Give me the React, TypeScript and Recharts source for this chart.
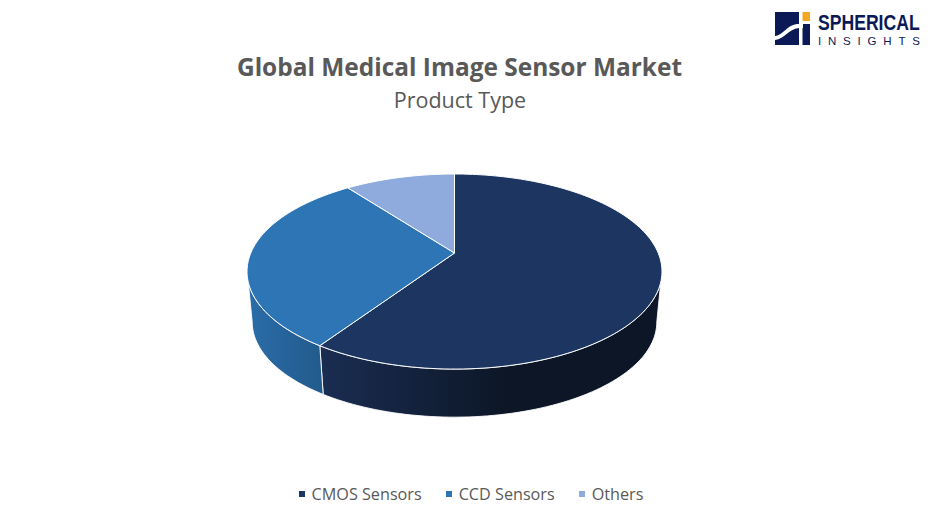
import React from "react";
import { PieChart, Pie, Legend } from "recharts";

const categories = ["CMOS Sensors", "CCD Sensors", "Others"];
const shares = [59.4, 30.3, 10.3];
const topColors = ["#1d3561", "#2e75b6", "#8faadc"];
const wallStart = ["#1a2d52", "#2b6ca9", "#6f88b3"];
const wallEnd = ["#0c1626", "#225a8b", "#6f88b3"];

const tableRows = categories.map((name, i) => ({
  name,
  value: shares[i],
  fill: topColors[i],
  wallA: wallStart[i],
  wallB: wallEnd[i],
  idx: i,
}));

const PERSPECTIVE = -0.19;
const SQUASH = 0.4615;
const DEPTH_SHIFT = 51;
const DEPTH_SCALE = 0.975;

function project(cx: number, cy: number, r: number, deg: number, scale = 1, shift = 0) {
  const t = (deg * Math.PI) / 180;
  const u = Math.sin(t);
  const v = -Math.cos(t);
  const d = 1 + PERSPECTIVE * v;
  return [cx + (scale * r * u) / d, cy + shift + (scale * r * SQUASH * v) / d];
}

function sweep(a: number, b: number) {
  const n = Math.max(2, Math.ceil(Math.abs(b - a) / 1.5));
  const out: number[] = [];
  for (let i = 0; i <= n; i++) out.push(a + ((b - a) * i) / n);
  return out;
}

function Sector3D(props: any) {
  const { cx, cy, outerRadius: r, startAngle, endAngle, fill } = props;
  const th1 = 90 - startAngle;
  const th2 = 90 - endAngle;
  const wallA = props.wallA ?? props.payload?.wallA;
  const wallB = props.wallB ?? props.payload?.wallB;
  const idx = props.idx ?? props.payload?.idx;

  const top = sweep(th1, th2).map((d) => project(cx, cy, r, d));
  const topPath =
    `M${cx},${cy} ` + top.map((p) => `L${p[0].toFixed(2)},${p[1].toFixed(2)}`).join(" ") + " Z";

  const lo = Math.max(th1, 107);
  const hi = Math.min(th2, 253);
  let wall = null;
  if (hi > lo) {
    const upper = sweep(lo, hi).map((d) => project(cx, cy, r, d));
    const lowerFrom = lo === 107 ? 101 : lo;
    const lowerTo = hi === 253 ? 259 : hi;
    const lower = sweep(lowerTo, lowerFrom).map((d) => project(cx, cy, r, d, DEPTH_SCALE, DEPTH_SHIFT));
    const pts = [...upper, ...lower];
    const d = "M" + pts.map((p) => `${p[0].toFixed(2)},${p[1].toFixed(2)}`).join(" L") + " Z";
    wall = <path d={d} fill={`url(#wall-${idx})`} stroke="#ffffff" strokeWidth={0.9} strokeLinejoin="round" />;
  }
  return (
    <g>
      <defs>
        <linearGradient id={`wall-${idx}`} x1="0" y1="0" x2="1" y2="0">
          <stop offset="0" stopColor={wallA} />
          <stop offset={idx === 0 ? 0.55 : 1} stopColor={wallB} />
          <stop offset="1" stopColor={wallB} />
        </linearGradient>
      </defs>
      {wall}
      <path d={topPath} fill={fill} stroke="#ffffff" strokeWidth={1} strokeLinejoin="round" />
    </g>
  );
}

function LegendRow({ payload }: any) {
  return (
    <div
      style={{
        display: "flex",
        justifyContent: "center",
        alignItems: "center",
        fontFamily: "'Open Sans', sans-serif",
        fontSize: 16.2,
        color: "#595959",
        lineHeight: "22px",
      }}
    >
      {(payload ?? []).map((it: any, i: number) => (
        <span key={it.value} style={{ display: "flex", alignItems: "center", marginLeft: i === 0 ? 0 : 24 }}>
          <span style={{ width: 6, height: 6, background: it.color, marginRight: 7, display: "inline-block" }} />
          {it.value}
        </span>
      ))}
    </div>
  );
}

function Logo() {
  return (
    <svg width={932} height={60} style={{ position: "absolute", left: 0, top: 0 }}>
      <rect x={775} y={12} width={35} height={33} fill="#0b1a57" />
      <rect x={802} y={12} width={8} height={9} fill="#f5a623" />
      <rect x={802} y={21} width={8} height={3} fill="#ffffff" />
      <rect x={799} y={12} width={3.5} height={33} fill="#ffffff" />
      <path d="M775,40 C785,39 788,29 799,28 L803,28 L803,24 L799,24 C787,24 784,35 775,36 Z" fill="#ffffff" />
      <text transform="translate(818,30) scale(0.8,1)" fontFamily="'Liberation Sans', sans-serif" fontWeight={700} fontSize={22} fill="#0b1a57">
        SPHERICAL
      </text>
      <text x={818} y={45} fontFamily="'Liberation Sans', sans-serif" fontSize={11.5} letterSpacing={6.8} fill="#0b1a57">
        INSIGHTS
      </text>
    </svg>
  );
}

export default function App() {
  return (
    <div style={{ position: "absolute", left: 0, top: 0, width: 932, height: 525, background: "#ffffff", overflow: "hidden" }}>
      <PieChart width={932} height={525} margin={{ top: 0, right: 0, bottom: 0, left: 0 }}>
        <Pie
          data={tableRows}
          dataKey="value"
          nameKey="name"
          cx={454.5}
          cy={253}
          innerRadius={0}
          outerRadius={203.7}
          startAngle={90}
          endAngle={-270}
          stroke="#ffffff"
          isAnimationActive={false}
          shape={Sector3D}
          activeShape={Sector3D}
        />
        <Legend
          itemSorter={null}
          content={<LegendRow />}
          wrapperStyle={{ position: "absolute", left: 5, width: 932, top: 483 }}
        />
      </PieChart>
      <div style={{ position: "absolute", left: 0, width: 919, top: 50, textAlign: "center", fontFamily: "'Open Sans', sans-serif", fontWeight: 700, fontSize: 24.45, color: "#595959", lineHeight: "34px" }}>
        Global Medical Image Sensor Market
      </div>
      <div style={{ position: "absolute", left: 0, width: 920, top: 85, textAlign: "center", fontFamily: "'Open Sans', sans-serif", fontSize: 21.5, color: "#595959", lineHeight: "30px" }}>
        Product Type
      </div>
      <Logo />
    </div>
  );
}
